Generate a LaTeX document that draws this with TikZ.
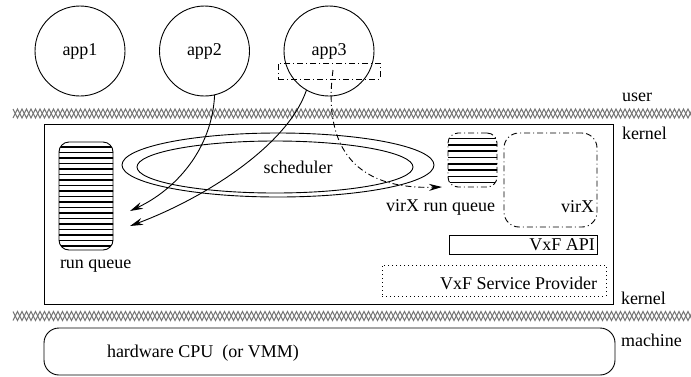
\documentclass[tikz,border=0pt]{standalone}
\usepackage{fontspec}
\setmainfont{Liberation Serif}
\usetikzlibrary{arrows.meta,shapes.geometric}
\begin{document}
\begin{tikzpicture}[x=1pt,y=-1pt,line width=0.9pt,
  every node/.style={font=\fontsize{18}{20}\selectfont,inner sep=0pt,outer sep=0pt},
  app/.style={draw,circle,minimum size=90pt},
  box/.style={draw,rectangle,anchor=north west},
  dashdot/.style={dash pattern=on 6pt off 3pt on 1pt off 3pt},
  dots/.style={dash pattern=on 1pt off 3pt},
  bandline/.style={draw=black!55,line width=1pt},
  stripe/.style={line width=1.6pt},
  arr/.style={-{Stealth[length=13pt,width=7pt]}},
  lbl/.style={anchor=west}]
\useasboundingbox (0,0) rectangle (691,376);

% user-level applications
\node[app] (app1) at (80,51) {app1};
\node[app] (app2) at (204.5,51) {app2};
\node[app] (app3) at (329,51) {app3};
\node[draw,dashdot,minimum width=102pt,minimum height=16pt] (sel) at (329,71) {};

% protection boundaries
\foreach \y in {113.5,316}{
  \draw[bandline] (13,\y-4.5) \foreach \i in {0,...,75}{ -- ++(4.5,9) -- ++(4.5,-9) };
  \draw[bandline] (13,\y+4.5) \foreach \i in {0,...,75}{ -- ++(4.5,-9) -- ++(4.5,9) };
}

% kernel
\node[box,minimum width=569pt,minimum height=180pt] (kernel) at (44,124) {};

% run queue
\node[box,rounded corners=10pt,minimum width=54pt,minimum height=108pt] (rq) at (59,142) {};
\begin{scope}
  \clip[rounded corners=10pt] (59,142) rectangle (113,250);
  \foreach \k in {0,...,18}{ \draw[stripe] (55,147+5.5*\k) -- (117,147+5.5*\k); }
\end{scope}
\node[lbl] (rqlbl) at (60,266) {run queue};

% scheduler
\node[draw,ellipse,minimum width=312pt,minimum height=64pt] (schedO) at (278,165) {};
\node[draw,ellipse,minimum width=276pt,minimum height=52pt] (schedI) at (275,167) {};
\node (schedlbl) at (298,167) {scheduler};

% virX run queue
\node[box,dashdot,rounded corners=10pt,minimum width=49pt,minimum height=54pt] (vq) at (448,133) {};
\begin{scope}
  \clip[rounded corners=10pt] (448,133) rectangle (497,187);
  \foreach \k in {0,...,7}{ \draw[stripe] (444,138.5+6.3*\k) -- (501,138.5+6.3*\k); }
\end{scope}
\node[anchor=east] (vqlbl) at (495,207) {virX run queue};

% virX
\node[box,dashdot,rounded corners=15pt,minimum width=93pt,minimum height=94pt] (virx) at (504,133) {};
\node[anchor=east] (virxlbl) at (594,207) {virX};

% VxF layers
\node[box,minimum width=148pt,minimum height=19pt] (api) at (449,235) {};
\node[anchor=east] (apilbl) at (595,245) {VxF API};
\node[box,dots,minimum width=224pt,minimum height=31pt] (vsp) at (382,265) {};
\node[anchor=east] (vsplbl) at (597,283) {VxF Service Provider};

% machine
\node[box,rounded corners=15pt,minimum width=571pt,minimum height=47pt] (cpu) at (44,328) {};
\node[lbl] (cpulbl) at (107,353) {hardware CPU\ \ (or VMM)};

% level labels
\node[lbl] (lu) at (622,97) {user};
\node[lbl] (lk1) at (622,133) {kernel};
\node[lbl] (lk2) at (621,298) {kernel};
\node[lbl] (lm) at (621,340) {machine};

% control flow
\coordinate (t1) at (130,211);
\coordinate (t2) at (130,226);
\coordinate (vs) at (333,70);
\coordinate (vt) at (442,187);
\draw[arr] (app2.-77) .. controls (212,150) and (175,190) .. (t1);
\draw[arr] (app3.-120) .. controls (288,145) and (205,198) .. (t2);
\draw[arr,dashdot] (vs) .. controls (325,130) and (340,190) .. (vt);
\end{tikzpicture}
\end{document}
